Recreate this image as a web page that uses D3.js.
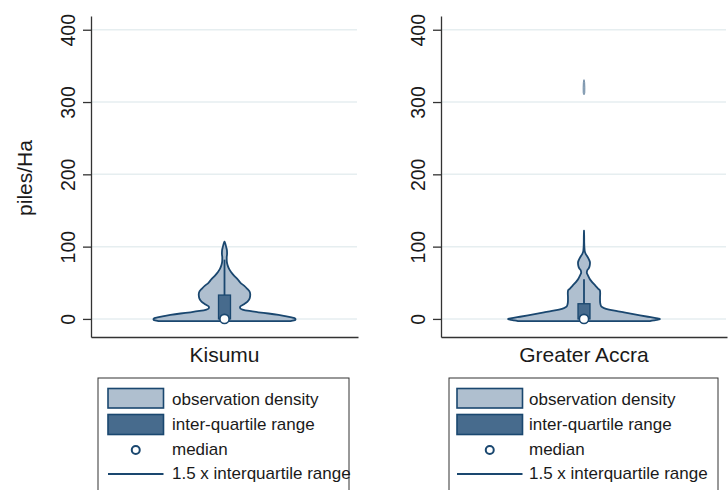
<!DOCTYPE html>
<html>
<head>
<meta charset="utf-8">
<script src="https://cdn.jsdelivr.net/npm/d3@7"></script>
<style>
  body { margin: 0; background: #fff; }
  svg { display: block; font-family: "Liberation Sans", Arial, sans-serif; }
</style>
</head>
<body>
<svg id="chart" width="728" height="490"></svg>
<script>
// Regions shown, one panel each
const regions = ["Kisumu", "Greater Accra"];
const yTicks = [0, 100, 200, 300, 400];
const yTitle = "piles/Ha";

// Kernel density profiles: [piles/Ha, relative density]; null marks a gap
const kisumuDensity = [
  [-3, 0.868], [-2, 0.914], [-1, 0.934], [0, 0.934], [1, 0.921], [2, 0.882],
  [3.5, 0.816], [5.5, 0.711], [7.5, 0.579], [9.2, 0.447], [11, 0.329], [13, 0.237],
  [15, 0.204], [17, 0.207], [20, 0.250], [24, 0.303], [29, 0.333], [34, 0.339],
  [38, 0.329], [42, 0.296], [46, 0.257], [50, 0.211], [55, 0.171], [60, 0.125],
  [65, 0.086], [70, 0.057], [75, 0.039], [80, 0.030], [85, 0.029], [90, 0.034],
  [95, 0.032], [100, 0.021], [104, 0.011], [107, 0]
];
const accraDensity = [
  [-3, 0.868], [-2, 0.921], [-1, 0.974], [0, 1.0], [1, 0.947], [3, 0.842],
  [5, 0.737], [7, 0.632], [9, 0.526], [11, 0.421], [13, 0.329], [15, 0.263],
  [17, 0.230], [20, 0.217], [25, 0.211], [30, 0.211], [35, 0.213], [39, 0.211],
  [42, 0.184], [45, 0.158], [48, 0.132], [52, 0.099], [56, 0.072], [60, 0.053],
  [64, 0.037], [67, 0.042], [70, 0.063], [74, 0.076], [78, 0.079], [82, 0.066],
  [86, 0.046], [90, 0.022], [95, 0.008], [105, 0.003], [115, 0.002], [122, 0],
  null,
  [310, 0], [313, 0.011], [320, 0.012], [327, 0.009], [331, 0]
];
const densities = [kisumuDensity, accraDensity];

// Box summary per region
const q1 = [0, 0];
const medians = [0, 0];
const q3 = [33, 21];
const whiskerHigh = [82, 55];

const legendLabels = ["observation density", "inter-quartile range", "median", "1.5 x interquartile range"];

// Colours
const navy = "#1a476f";
const lightFill = "#afbfcf";
const darkFill = "#476b8d";
const gridColor = "#e6eef0";
const axisColor = "#333";

const svg = d3.select("#chart");

const y = d3.scaleLinear().domain([-25, 419]).range([337, 16]);
const halfWidth = d3.scaleLinear().domain([0, 1]).range([0, 76]);

// Panel frames
const panels = [
  { left: 91, right: 358, legend: { x: 98, w: 251, sx: 108, sw: 55.5, tx: 172 } },
  { left: 441, right: 727, legend: { x: 449, w: 269, sx: 457, sw: 65.5, tx: 529 } }
];

panels.forEach((p, i) => {
  const g = svg.append("g");
  const x = d3.scaleBand().domain([regions[i]]).range([p.left, p.right]);
  const cx = x(regions[i]) + x.bandwidth() / 2;

  // grid lines
  g.append("g").selectAll("line").data(yTicks).join("line")
    .attr("x1", p.left).attr("x2", p.right - 1)
    .attr("y1", d => y(d)).attr("y2", d => y(d))
    .attr("stroke", gridColor).attr("stroke-width", 1.5);

  // y axis with vertical tick labels
  const yAxis = g.append("g")
    .attr("transform", `translate(${p.left},0)`)
    .call(d3.axisLeft(y).tickValues(yTicks).tickSize(8).tickSizeOuter(0));
  yAxis.select(".domain").attr("stroke", axisColor).attr("stroke-width", 1.3);
  yAxis.selectAll(".tick line").attr("stroke", axisColor).attr("stroke-width", 1.3);
  yAxis.selectAll(".tick text")
    .attr("transform", "rotate(-90)")
    .attr("x", 0).attr("y", -16).attr("dy", null)
    .attr("text-anchor", "middle")
    .attr("font-size", 19.5).attr("fill", "#1a1a1a")
    .attr("font-family", "'Liberation Sans', Arial, sans-serif");

  // x axis with category label
  const xAxis = g.append("g")
    .attr("transform", "translate(0,337)")
    .call(d3.axisBottom(x).tickSize(0).tickSizeOuter(0).tickPadding(10));
  xAxis.select(".domain").attr("stroke", axisColor).attr("stroke-width", 1.3);
  xAxis.selectAll(".tick text")
    .attr("font-size", 21).attr("fill", "#1a1a1a")
    .attr("font-family", "'Liberation Sans', Arial, sans-serif");

  // violin, split into its separate density segments
  const segments = [];
  let cur = [];
  densities[i].forEach(d => {
    if (d === null) { if (cur.length) segments.push(cur); cur = []; }
    else cur.push(d);
  });
  if (cur.length) segments.push(cur);

  const area = d3.area()
    .y(d => y(d[0]))
    .x0(d => cx - halfWidth(d[1]))
    .x1(d => cx + halfWidth(d[1]))
    .curve(d3.curveMonotoneY);

  segments.forEach(seg => {
    const maxW = d3.max(seg, d => halfWidth(d[1]));
    g.append("path")
      .attr("d", area(seg))
      .attr("fill", lightFill)
      .attr("stroke", navy)
      .attr("stroke-width", maxW > 3 ? 1.8 : 0.5)
      .attr("stroke-linejoin", "round");
  });

  // whisker
  g.append("line")
    .attr("x1", cx).attr("x2", cx)
    .attr("y1", y(q3[i])).attr("y2", y(whiskerHigh[i]))
    .attr("stroke", navy).attr("stroke-width", 1.8);

  // inter-quartile box
  g.append("rect")
    .attr("x", cx - 6).attr("width", 12)
    .attr("y", y(q3[i])).attr("height", y(q1[i]) - y(q3[i]))
    .attr("fill", darkFill).attr("stroke", navy).attr("stroke-width", 1.3);

  // median
  g.append("circle")
    .attr("cx", cx).attr("cy", y(medians[i])).attr("r", 4.6)
    .attr("fill", "#fff").attr("stroke", navy).attr("stroke-width", 1.6);

  // legend
  const L = p.legend;
  const lg = g.append("g");
  lg.append("rect")
    .attr("x", L.x).attr("y", 378).attr("width", L.w).attr("height", 130)
    .attr("fill", "#fff").attr("stroke", axisColor).attr("stroke-width", 1);
  lg.append("rect").attr("x", L.sx).attr("y", 388.5).attr("width", L.sw).attr("height", 19.5)
    .attr("fill", lightFill).attr("stroke", navy).attr("stroke-width", 1.6);
  lg.append("rect").attr("x", L.sx).attr("y", 414.5).attr("width", L.sw).attr("height", 20)
    .attr("fill", darkFill).attr("stroke", navy).attr("stroke-width", 1.6);
  lg.append("circle").attr("cx", L.sx + L.sw / 2).attr("cy", 450).attr("r", 4)
    .attr("fill", "#fff").attr("stroke", navy).attr("stroke-width", 2);
  lg.append("line").attr("x1", L.sx).attr("x2", L.sx + L.sw).attr("y1", 474).attr("y2", 474)
    .attr("stroke", navy).attr("stroke-width", 1.8);
  const baselines = [405, 430, 455, 479];
  lg.selectAll("text").data(legendLabels).join("text")
    .attr("x", L.tx).attr("y", (d, k) => baselines[k])
    .attr("font-size", 17).attr("fill", "#1a1a1a")
    .text(d => d);
});

// y axis title
svg.append("text")
  .attr("transform", "translate(32,178) rotate(-90)")
  .attr("text-anchor", "middle")
  .attr("font-size", 21).attr("fill", "#1a1a1a")
  .text(yTitle);
</script>
</body>
</html>
